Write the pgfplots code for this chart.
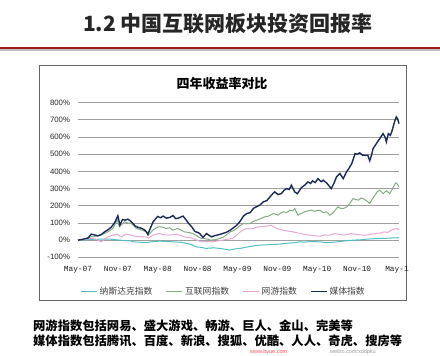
\documentclass[border=0pt]{standalone}
\usepackage{pgfplots}
\pgfplotsset{compat=1.18}
\usepackage{fontspec}
\setmainfont{Liberation Sans}
\newfontfamily\cjk{Noto Sans CJK SC}
\newfontfamily\mono{Liberation Mono}
\definecolor{cnas}{HTML}{4FBFC6}
\definecolor{cnet}{HTML}{86AC84}
\definecolor{cgame}{HTML}{E8A8D2}
\definecolor{cmedia}{HTML}{1B2A57}
\definecolor{cred}{HTML}{A01818}
\begin{document}
\begin{tikzpicture}[x=1pt,y=1pt]
\path[use as bounding box] (0,0) rectangle (440,356);
% title
\node[font=\cjk\bfseries\fontsize{21}{24}\selectfont, text=black!85] at (228,332) {1.2\ 中国互联网板块投资回报率};
\fill[black!25] (0,305.2) rectangle (440,306.5);
\fill[cred] (0,306.5) rectangle (440,309);
% chart box
\draw[gray!80!black, line width=0.9pt] (39.5,56) rectangle (406.7,291);
\node[font=\cjk\bfseries\fontsize{13}{15}\selectfont] at (222,272) {四年收益率对比};
\begin{axis}[
  at={(78pt,98.7pt)}, anchor=south west,
  scale only axis, width=321pt, height=154.6pt,
  xmin=0, xmax=48.3, ymin=-100, ymax=800,
  clip=false,
  axis line style={draw=none},
  major tick length=0pt,
  ytick={-100,0,100,200,300,400,500,600,700,800},
  ymajorgrids, grid style={gray!75, line width=0.8pt},
  yticklabel={\pgfmathprintnumber{\tick}\%},
  yticklabel style={font=\fontsize{7.8}{9}\selectfont, xshift=-4.5pt, text=black!85},
  /pgf/number format/assume math mode=true,
  xtick={0,6,12,18,24,30,36,42,48},
  xticklabels={May-07,Nov-07,May-08,Nov-08,May-09,Nov-09,May-10,Nov-10,May-1},
  xticklabel style={font=\mono\fontsize{7.8}{9}\selectfont, yshift=-5.5pt, text=black!90},
  legend columns=4,
  legend style={draw=none, fill=none, at={(0.453,-0.2225)}, anchor=center,
    font=\cjk\fontsize{8.8}{10}\selectfont, text=black!75,
    /tikz/every even column/.append style={column sep=11pt}},
  legend image code/.code={\draw[#1, line width=1.6pt] (0pt,0pt) -- (16pt,0pt);},
]
\addplot[cnas, line width=1pt] coordinates {
(0,0) (1,2) (2,4) (3,5) (4,6) (5,5) (6.25,0) (7,-3) (8,-5) (8.25,-10) (9.2,-12) (10.25,-14)
(11.5,-8) (12.25,-6) (13.5,-8) (14.25,-10) (15.5,-12) (16.25,-19) (17,-25) (17.75,-39)
(18.5,-42) (19.25,-48) (20.5,-45) (21.25,-48) (22.5,-55) (22.75,-58) (23.5,-52) (24.4,-48)
(25.5,-40) (26.5,-33) (27.4,-29) (28.5,-27) (30.4,-23) (31.5,-18) (32.5,-15) (33.4,-10)
(34,-12) (35,-8) (36.4,-10) (37.4,-15) (38.5,-12) (39.5,-8) (40.5,-3) (41.5,0) (42.5,2)
(43.5,6) (44.5,8) (45.5,10) (46.5,11) (47.5,13) (48.3,14)
};
\addlegendentry{纳斯达克指数}
\addplot[cnet, line width=1pt] coordinates {
(0,0) (1,5) (2,19) (3,25) (4,39) (4.6,50) (5.25,68) (5.9,117) (6.25,78) (7,107) (7.5,100)
(8,97) (8.4,85) (8.75,68) (9.5,60) (10.25,48) (10.6,29) (11.25,58) (11.8,72) (12.25,78)
(12.8,75) (13.25,68) (13.8,72) (14.25,58) (15,68) (15.5,58) (16,48) (16.6,45) (17.25,39)
(17.9,25) (18.5,10) (19.2,8) (20,0) (20.8,3) (21.4,10) (22,20) (22.9,48) (23.4,55) (23.9,68)
(24.4,85) (24.9,97) (25.4,95) (25.9,97) (26.4,110) (26.9,116) (27.5,125) (28.1,136)
(28.7,140) (29.4,155) (30.1,145) (30.5,158) (30.9,165) (31.4,160) (31.9,174) (32.3,170)
(32.6,184) (33.1,145) (33.6,155) (34.1,165) (34.6,170) (35.1,174) (35.6,168) (36.1,174)
(36.5,172) (36.9,160) (37.4,165) (37.9,145) (38.4,160) (39.1,194) (39.5,185) (39.9,184)
(40.3,190) (40.7,203) (41,220) (41.4,242) (41.8,236) (42.2,233) (42.6,245) (42.9,242)
(43.4,230) (43.9,213) (44.3,240) (44.7,262) (45,280) (45.4,291) (45.9,271) (46.4,287)
(46.9,271) (47.2,290) (47.4,306) (47.8,333) (48,328) (48.3,310)
};
\addlegendentry{互联网指数}
\addplot[cgame, line width=1pt] coordinates {
(0,0) (1,5) (2,10) (2.7,5) (3.5,-10) (4,5) (4.5,19) (5.2,28) (5.9,35) (6.5,19) (7.25,35)
(7.8,30) (8.5,23) (9.3,20) (10.25,19) (10.6,12) (11.25,29) (11.8,35) (12.25,39) (12.8,32)
(13.5,29) (14.1,30) (14.75,35) (15.4,28) (16,19) (16.6,15) (17.25,10) (17.9,0) (18.5,-10)
(19.3,-8) (20.25,-10) (21,-5) (21.75,0) (22.5,5) (23.25,10) (23.8,25) (24.4,48) (24.9,60)
(25.4,68) (25.9,65) (26.4,68) (26.9,75) (27.4,78) (27.9,80) (28.4,81) (28.8,85) (29.1,87)
(29.5,75) (29.9,68) (30.4,62) (30.9,58) (31.6,52) (32.4,48) (33,42) (33.4,39) (34.2,32)
(34.9,29) (35.6,25) (36.4,23) (37.1,30) (37.9,29) (38.6,38) (39.4,32) (40.2,30) (41,38)
(41.8,34) (42.6,30) (43.4,29) (44.2,35) (45,39) (45.6,42) (46.1,48) (46.6,45) (47.1,58)
(47.6,65) (48,68) (48.3,60)
};
\addlegendentry{网游指数}
\addplot[cmedia, line width=1.4pt] coordinates {
(0,0) (0.5,3) (1,8) (1.5,12) (2,35) (2.5,30) (3,25) (3.5,32) (4,48) (4.5,60) (5,75)
(5.5,100) (6,142) (6.3,88) (6.7,120) (7.1,116) (7.5,122) (7.8,114) (8.2,100) (8.6,82)
(9,75) (9.6,68) (10,60) (10.3,48) (10.5,33) (10.9,70) (11.3,107) (11.7,125) (12,138)
(12.4,130) (12.8,140) (13.3,128) (13.8,132) (14.3,143) (14.7,125) (15.1,128) (15.5,135)
(15.8,140) (16.3,116) (16.7,95) (17.1,78) (17.6,50) (18,45) (18.3,39) (18.8,16) (19.35,38)
(19.7,28) (20.1,19) (20.5,25) (20.9,29) (21.4,34) (21.8,39) (22.3,45) (22.9,58) (23.4,72)
(23.9,87) (24.4,110) (24.9,140) (25.4,155) (25.9,160) (26.4,185) (26.9,195) (27.4,205)
(27.9,223) (28.4,230) (28.9,252) (29.3,270) (29.6,281) (30.1,265) (30.6,271) (31,290)
(31.4,300) (31.8,295) (32.1,320) (32.6,281) (33,270) (33.6,305) (34.1,320) (34.6,339)
(35,330) (35.3,345) (35.7,335) (36.1,358) (36.6,340) (36.9,349) (37.4,333) (37.8,315)
(38.1,300) (38.5,330) (38.9,368) (39.4,388) (39.9,358) (40.4,397) (40.8,420) (41.2,446)
(41.7,504) (42,500) (42.4,508) (42.8,495) (43.2,494) (43.6,494) (43.9,462) (44.2,500)
(44.4,533) (44.9,562) (45.2,580) (45.4,591) (45.9,620) (46.2,600) (46.4,572) (46.7,620)
(47,610) (47.2,630) (47.5,670) (47.7,698) (47.9,717) (48.1,705) (48.3,678)
};
\addlegendentry{媒体指数}
\end{axis}
% notes
\node[anchor=west, font=\cjk\bfseries\fontsize{12.3}{14}\selectfont, inner sep=0pt] at (33,30) {网游指数包括网易、盛大游戏、畅游、巨人、金山、完美等};
\node[anchor=west, font=\cjk\bfseries\fontsize{12.3}{14}\selectfont, inner sep=0pt] at (33,15) {媒体指数包括腾讯、百度、新浪、搜狐、优酷、人人、奇虎、搜房等};
\node[anchor=west, font=\fontsize{5.5}{6}\selectfont, text=red!70, inner sep=0pt] at (250,3.5) {www.byue.com};
\node[anchor=west, font=\fontsize{5.5}{6}\selectfont, text=gray!80, inner sep=0pt] at (330,3.5) {weibo.com/xddpku};
\end{tikzpicture}
\end{document}
